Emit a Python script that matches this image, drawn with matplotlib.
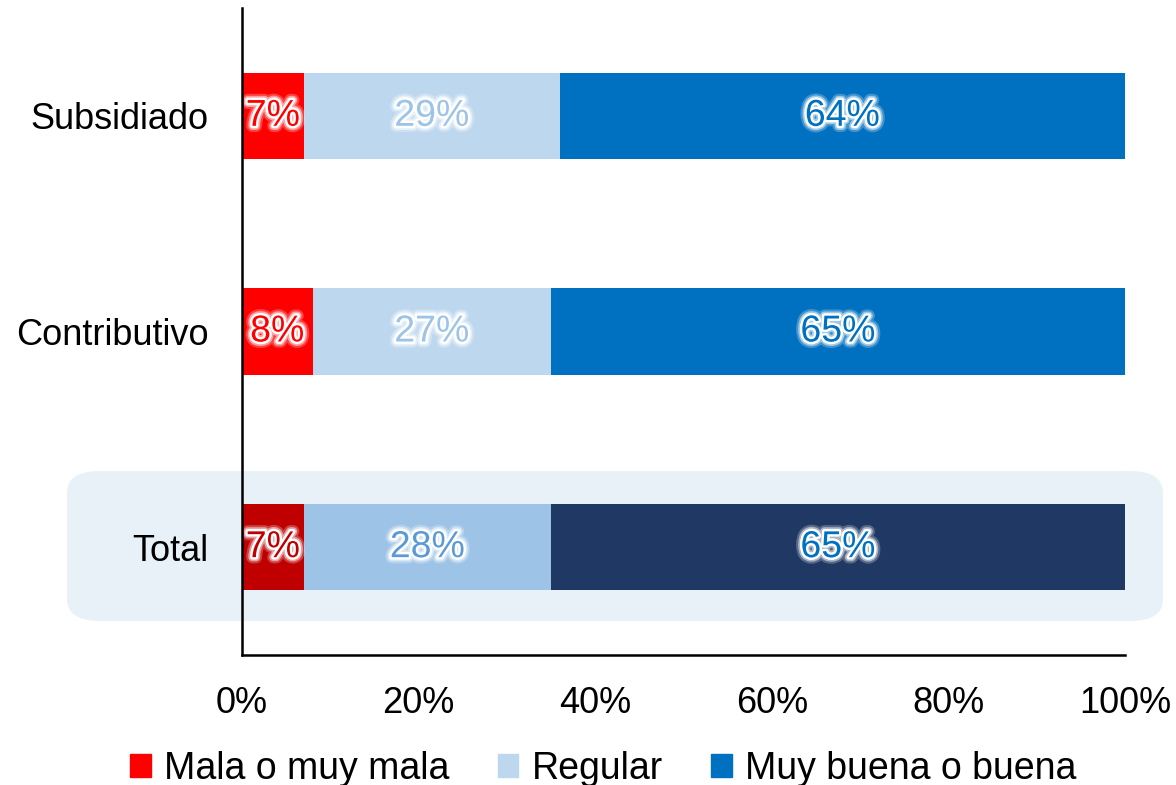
import matplotlib
matplotlib.use("Agg")
import matplotlib.pyplot as plt
import matplotlib.patheffects as pe
from matplotlib.patches import FancyBboxPatch, Patch

plt.rcParams['font.family'] = ['Liberation Sans', 'DejaVu Sans']

categories = ["Total", "Contributivo", "Subsidiado"]
mala = [7, 8, 7]
regular = [28, 27, 29]
buena = [65, 65, 64]
series_names = ["Mala o muy mala", "Regular", "Muy buena o buena"]
ticks = [0, 20, 40, 60, 80, 100]

# colours: normal rows / highlighted total row
bar_cols = ["#FF0000", "#BDD7EE", "#0070C0"]
total_cols = ["#C00000", "#9DC3E6", "#203864"]
txt_cols = ["#FF0000", "#9DC3E6", "#0070C0"]
total_txt = ["#C00000", "#5B9BD5", "#0070C0"]

fig = plt.figure(figsize=(11.76, 7.85), dpi=100)

# highlight box behind the Total row
box = FancyBboxPatch((67 / 1176, 1 - 621 / 785), 1096 / 1176, 150 / 785,
                     boxstyle="round,pad=0,rounding_size=0.028",
                     transform=fig.transFigure, facecolor="#E8F0F8",
                     edgecolor="none", zorder=-5)
fig.patches.append(box)

ax = fig.add_axes([242 / 1176, 1 - 655 / 785, 883 / 1176, 647 / 785])
ax.set_facecolor("none")

glow = [pe.Stroke(linewidth=9, foreground="white", alpha=0.25),
        pe.Stroke(linewidth=6, foreground="white", alpha=0.5),
        pe.Stroke(linewidth=3.5, foreground="white"), pe.Normal()]

y = list(range(len(categories)))
for i, cat in enumerate(categories):
    vals = [mala[i], regular[i], buena[i]]
    cols = total_cols if cat == "Total" else bar_cols
    tcols = total_txt if cat == "Total" else txt_cols
    left = 0
    for j, v in enumerate(vals):
        ax.barh(y[i], v, left=left, height=0.4, color=cols[j], zorder=2)
        ax.text(left + v / 2, y[i], f"{v}%", ha="center", va="center",
                fontsize=27, color=tcols[j], path_effects=glow, zorder=3)
        left += v

ax.set_xlim(0, 100)
ax.set_ylim(-0.5, 2.5)
ax.set_yticks(y)
ax.set_yticklabels(categories, fontsize=26)
ax.set_xticks(ticks)
ax.set_xticklabels([f"{t}%" for t in ticks], fontsize=26)
ax.tick_params(length=0)
ax.tick_params(axis="x", pad=22)
ax.tick_params(axis="y", pad=24)
for s in ["top", "right"]:
    ax.spines[s].set_visible(False)
for s in ["left", "bottom"]:
    ax.spines[s].set_linewidth(1.8)
    ax.spines[s].set_zorder(4)

handles = [Patch(color=c, label=n) for c, n in zip(bar_cols, series_names)]
fig.legend(handles=handles, loc="lower center", ncol=3, frameon=False,
           handlelength=0.55, handleheight=0.55, handletextpad=0.35,
           columnspacing=1.3, bbox_to_anchor=(0.513, -0.045),
           prop={'family': ['Liberation Sans'], 'size': 27})

fig.savefig("out.png", dpi=100)
